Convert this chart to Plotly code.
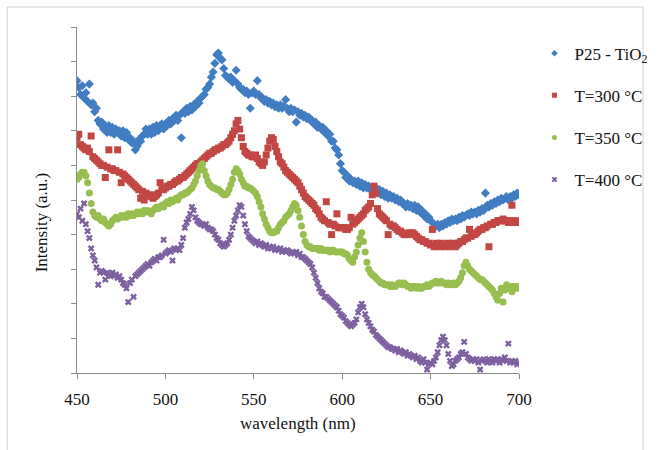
import plotly.graph_objects as go

# Wavelength grid (nm), one reading per nm
wavelength = list(range(450, 701))

# P25 - TiO2 photoluminescence intensity (a.u.)
p25_tio2 = [
    8.45, 8.25, 8.05, 8.30, 7.95, 8.10, 7.85, 8.35, 7.75, 7.80,
    7.55, 7.65, 7.30, 7.20, 7.25, 7.05, 7.15, 6.95, 7.15, 6.95,
    7.10, 6.90, 7.05, 6.95, 7.00, 6.85, 7.00, 6.80, 6.95, 6.75,
    6.80, 6.65, 6.70, 6.45, 6.55, 6.75, 6.70, 6.85, 6.90, 7.05,
    6.90, 7.05, 6.90, 7.10, 6.95, 7.15, 7.00, 7.15, 7.20, 7.05,
    7.20, 7.15, 7.30, 7.20, 7.35, 7.30, 7.45, 7.30, 7.45, 6.80,
    7.55, 7.50, 7.65, 7.55, 7.70, 7.60, 7.75, 7.70, 7.85, 7.80,
    7.95, 8.00, 8.05, 8.20, 8.25, 8.35, 8.55, 8.70, 8.95, 9.20,
    9.25, 9.10, 9.05, 8.80, 8.60, 8.55, 8.50, 8.55, 8.40, 8.45,
    8.75, 8.35, 8.25, 8.20, 8.20, 8.10, 8.15, 8.05, 7.65, 8.10,
    8.15, 8.05, 8.45, 8.05, 7.95, 7.95, 7.85, 7.90, 7.80, 7.85,
    7.75, 7.80, 7.70, 7.75, 7.65, 7.75, 7.65, 7.70, 7.90, 7.65,
    7.55, 7.65, 7.55, 7.60, 7.25, 7.55, 7.45, 7.50, 7.40, 7.45,
    7.35, 7.40, 7.30, 7.30, 7.20, 7.25, 7.10, 7.15, 7.05, 7.10,
    6.95, 7.00, 6.85, 6.90, 6.70, 6.70, 6.50, 6.45, 6.30, 6.05,
    5.85, 5.80, 5.65, 5.70, 5.55, 5.60, 5.50, 5.55, 5.45, 5.55,
    5.40, 5.50, 5.35, 5.45, 5.35, 5.40, 5.30, 5.35, 5.25, 5.35,
    5.20, 5.30, 5.15, 5.25, 5.10, 5.20, 5.05, 5.15, 5.05, 5.10,
    5.00, 5.05, 4.95, 5.00, 4.90, 4.90, 4.80, 4.90, 4.80, 4.85,
    4.75, 4.85, 4.70, 4.80, 4.65, 4.70, 4.55, 4.60, 4.45, 4.50,
    4.40, 4.35, 4.30, 4.25, 4.30, 4.20, 4.30, 4.25, 4.35, 4.30,
    4.40, 4.35, 4.45, 4.40, 4.45, 4.40, 4.50, 4.45, 4.55, 4.50,
    4.55, 4.60, 4.55, 4.65, 4.60, 4.65, 4.60, 4.70, 4.65, 4.75,
    4.70, 5.20, 4.85, 4.80, 4.90, 4.85, 4.95, 4.90, 5.00, 4.95,
    5.05, 5.00, 5.05, 5.10, 5.00, 5.10, 5.05, 5.15, 5.10, 5.20,
    5.15,
]

# Annealed at 300 °C
t300 = [
    6.80, 6.90, 6.60, 6.55, 6.50, 6.45, 6.50, 6.40, 6.85, 6.25,
    6.20, 6.15, 6.10, 6.05, 6.00, 6.00, 5.65, 5.95, 6.45, 5.90,
    5.90, 5.85, 5.85, 6.45, 5.80, 5.50, 5.75, 5.70, 5.65, 5.60,
    5.55, 5.50, 5.45, 5.40, 5.35, 5.30, 5.05, 5.25, 5.00, 5.20,
    5.15, 5.15, 5.10, 5.05, 5.10, 5.15, 5.20, 5.50, 5.30, 5.30,
    5.35, 5.40, 5.40, 5.45, 5.45, 5.50, 5.55, 5.55, 5.60, 5.65,
    5.65, 5.70, 5.75, 5.80, 5.85, 5.90, 5.95, 6.00, 6.05, 6.05,
    6.10, 6.15, 6.20, 6.25, 6.30, 6.35, 6.35, 6.40, 6.45, 6.45,
    6.50, 6.50, 6.55, 6.60, 6.60, 6.65, 6.70, 6.80, 6.90, 7.00,
    7.20, 7.30, 7.05, 6.80, 6.55, 6.40, 6.35, 6.30, 6.30, 6.25,
    6.25, 6.30, 6.20, 6.10, 6.05, 6.00, 6.10, 6.30, 6.50, 6.70,
    6.80, 6.75, 6.55, 6.40, 6.25, 6.10, 6.05, 5.95, 5.85, 5.80,
    5.75, 5.70, 5.65, 5.60, 5.55, 5.50, 5.40, 5.30, 5.20, 5.10,
    5.05, 5.00, 4.95, 4.90, 4.85, 4.75, 4.70, 4.60, 4.50, 4.45,
    4.40, 4.95, 4.35, 4.30, 4.00, 4.30, 4.25, 4.60, 4.20, 4.20,
    4.20, 4.20, 4.15, 4.15, 4.20, 4.50, 4.30, 4.35, 4.40, 4.45,
    4.50, 4.55, 4.60, 4.70, 4.75, 4.80, 4.90, 5.15, 5.40, 5.20,
    4.75, 4.60, 4.55, 4.50, 4.45, 4.40, 4.00, 4.30, 4.25, 4.25,
    4.20, 4.15, 4.10, 4.10, 4.05, 4.00, 4.00, 4.00, 4.05, 4.05,
    4.05, 4.00, 3.95, 3.90, 3.85, 3.85, 3.80, 3.80, 3.75, 3.75,
    3.70, 4.15, 3.65, 3.75, 3.70, 3.65, 3.75, 3.70, 3.65, 3.70,
    3.75, 3.65, 3.70, 3.75, 3.65, 3.70, 3.75, 3.80, 3.80, 3.85,
    3.90, 3.90, 4.15, 3.95, 4.00, 4.00, 4.05, 4.10, 4.15, 4.15,
    4.20, 4.20, 4.25, 3.65, 4.30, 4.30, 4.35, 4.35, 4.40, 4.40,
    4.40, 4.45, 4.40, 4.40, 4.35, 4.40, 4.85, 4.40, 4.35, 4.40,
    4.35,
]

# Annealed at 350 °C
t350 = [
    5.60, 5.65, 5.75, 5.80, 5.80, 5.70, 5.50, 5.20, 4.90, 4.65,
    4.55, 4.50, 4.55, 4.45, 4.40, 4.45, 4.35, 4.30, 4.25, 4.30,
    4.40, 4.45, 4.50, 4.45, 4.50, 4.55, 4.50, 4.55, 4.50, 4.60,
    4.55, 4.60, 4.55, 4.60, 4.65, 4.60, 4.65, 4.60, 4.70, 4.65,
    4.70, 4.65, 4.60, 4.70, 4.75, 4.80, 4.75, 4.80, 4.85, 4.80,
    4.90, 4.95, 4.90, 5.00, 4.95, 5.00, 5.05, 5.00, 5.10, 5.15,
    5.15, 5.20, 5.20, 5.25, 5.30, 5.35, 5.45, 5.55, 5.70, 5.85,
    6.00, 6.05, 5.85, 5.70, 5.55, 5.45, 5.40, 5.35, 5.35, 5.30,
    5.30, 5.25, 5.20, 5.15, 5.15, 5.20, 5.30, 5.45, 5.60, 5.80,
    5.90, 5.85, 5.75, 5.60, 5.50, 5.40, 5.40, 5.35, 5.35, 5.30,
    5.25, 5.20, 5.10, 4.95, 4.80, 4.60, 4.45, 4.30, 4.20, 4.10,
    4.05, 4.05, 4.10, 4.10, 4.20, 4.30, 4.35, 4.40, 4.50, 4.55,
    4.60, 4.70, 4.80, 4.90, 4.85, 4.70, 4.50, 4.25, 4.00, 3.80,
    3.70, 3.65, 3.65, 3.60, 3.60, 3.60, 3.60, 3.55, 3.60, 3.55,
    3.55, 3.55, 3.55, 3.50, 3.55, 3.55, 3.50, 3.50, 3.50, 3.50,
    3.50, 3.45, 3.45, 3.40, 3.30, 3.25, 3.20, 3.35, 3.50, 3.70,
    3.90, 4.05, 3.80, 3.50, 3.20, 3.00, 2.90, 2.85, 2.80, 2.75,
    2.70, 2.65, 2.60, 2.60, 2.55, 2.55, 2.55, 2.50, 2.55, 2.50,
    2.50, 2.55, 2.60, 2.60, 2.55, 2.60, 2.55, 2.50, 2.50, 2.45,
    2.50, 2.50, 2.45, 2.50, 2.45, 2.45, 2.50, 2.50, 2.55, 2.50,
    2.55, 2.60, 2.60, 2.65, 2.60, 2.60, 2.65, 2.60, 2.60, 2.55,
    2.60, 2.55, 2.55, 2.60, 2.55, 2.60, 2.65, 2.75, 2.90, 3.10,
    3.20, 3.10, 3.00, 2.95, 2.90, 2.85, 2.80, 2.75, 2.70, 2.70,
    2.65, 2.60, 2.55, 2.50, 2.45, 2.40, 2.30, 2.20, 2.10, 2.30,
    2.45, 2.05, 2.40, 2.55, 2.45, 2.50, 2.35, 2.50, 2.45, 2.50,
    2.45,
]

# Annealed at 400 °C
t400 = [
    4.60, 4.50, 4.75, 4.40, 4.90, 4.30, 4.10, 3.90, 3.60, 3.40,
    3.25, 3.05, 2.55, 2.90, 2.95, 2.90, 2.70, 2.90, 2.85, 2.80,
    2.90, 2.80, 2.85, 2.75, 2.80, 2.70, 2.60, 2.55, 2.45, 2.05,
    2.60, 2.70, 2.20, 2.80, 2.85, 2.90, 2.95, 3.00, 3.05, 3.10,
    3.15, 3.10, 3.20, 3.25, 3.30, 3.25, 3.35, 3.35, 3.40, 3.85,
    3.45, 3.50, 3.55, 3.50, 3.25, 3.60, 3.55, 3.60, 3.55, 3.70,
    3.90, 4.20, 4.35, 4.45, 4.60, 4.80, 4.70, 4.50, 4.40, 4.35,
    4.30, 4.30, 4.25, 4.30, 4.20, 4.15, 4.15, 4.10, 4.00, 3.90,
    3.85, 3.75, 3.70, 3.65, 3.70, 3.75, 3.85, 4.00, 4.20, 4.40,
    4.55, 4.70, 4.85, 4.80, 4.55, 4.30, 4.10, 3.95, 3.90, 3.85,
    3.80, 3.75, 3.80, 3.70, 3.75, 3.70, 3.65, 3.70, 3.60, 3.65,
    3.60, 3.65, 3.55, 3.60, 3.55, 3.60, 3.50, 3.55, 3.50, 3.55,
    3.50, 3.45, 3.50, 3.45, 3.50, 3.40, 3.45, 3.35, 3.35, 3.30,
    3.25, 3.20, 3.15, 3.05, 2.90, 2.75, 2.60, 2.45, 2.35, 2.30,
    2.20, 2.20, 2.15, 2.10, 2.05, 2.00, 1.95, 1.90, 1.80, 1.70,
    1.65, 1.60, 1.50, 1.45, 1.40, 1.35, 1.40, 1.45, 1.55, 1.75,
    1.90, 2.00, 1.90, 1.70, 1.55, 1.45, 1.35, 1.25, 1.20, 1.10,
    1.05, 1.00, 0.95, 0.90, 0.85, 0.80, 0.75, 0.75, 0.70, 0.70,
    0.65, 0.70, 0.60, 0.65, 0.60, 0.55, 0.60, 0.50, 0.55, 0.50,
    0.45, 0.50, 0.40, 0.45, 0.35, 0.30, 0.40, 0.30, 0.10, 0.25,
    0.30, 0.25, 0.35, 0.45, 0.60, 0.80, 0.95, 1.05, 0.95, 0.80,
    0.55, 0.35, 0.20, 0.25, 0.35, 0.40, 0.45, 0.55, 0.60, 0.90,
    0.55, 0.45, 0.40, 0.35, 0.40, 0.35, 0.40, 0.30, 0.10, 0.35,
    0.40, 0.35, 0.30, 0.40, 0.35, 0.30, 0.40, 0.35, 0.40, 0.30,
    0.40, 0.35, 0.45, 0.35, 0.85, 0.30, 0.35, 0.30, 0.35, 0.25,
    0.30,
]

series_names = ["P25 - TiO<sub>2</sub>", "T=300 °C", "T=350 °C", "T=400 °C"]
series_values = [p25_tio2, t300, t350, t400]
series_colors = ["#417DC2", "#C24744", "#98BE50", "#7D60A0"]
series_symbols = ["diamond", "square", "circle", "x"]
series_sizes = [7, 7, 7, 6]

x_ticks = [450, 500, 550, 600, 650, 700]

FONT = "Liberation Serif"
TEXT = "#111111"
AXIS_GREY = "#8c8c8c"

fig = go.Figure()
for i, (name, vals, col, sym, sz) in enumerate(
        zip(series_names, series_values, series_colors, series_symbols, series_sizes)):
    # data points
    fig.add_trace(go.Scatter(
        x=wavelength, y=vals, mode="markers", name=name,
        legendgroup=f"g{i}", showlegend=False,
        marker=dict(color=col, symbol=sym, size=sz, line=dict(width=0)),
    ))
    # legend entry with a smaller key symbol
    fig.add_trace(go.Scatter(
        x=[None], y=[None], mode="markers", name=name,
        legendgroup=f"g{i}", showlegend=True, hoverinfo="skip",
        marker=dict(color=col, symbol=sym, size=5, line=dict(width=0)),
    ))

fig.update_layout(
    width=665, height=450,
    margin=dict(l=77, r=132, t=27, b=77),
    paper_bgcolor="white", plot_bgcolor="white",
    font=dict(family=FONT, size=17, color=TEXT),
    showlegend=True,
    legend=dict(
        x=1.035, xanchor="left", y=0.975, yanchor="top",
        font=dict(family=FONT, size=17, color=TEXT),
        traceorder="grouped", tracegroupgap=17,
        itemwidth=30, bgcolor="rgba(0,0,0,0)",
    ),
    xaxis=dict(
        range=[450, 700], tickvals=x_ticks, ticktext=[str(t) for t in x_ticks],
        showline=True, linecolor=AXIS_GREY, linewidth=1,
        ticks="outside", ticklen=5, tickcolor=AXIS_GREY,
        showgrid=False, zeroline=False, ticklabelstandoff=6,
        tickfont=dict(family=FONT, size=17, color=TEXT),
    ),
    yaxis=dict(
        range=[0, 10], dtick=1, tick0=0,
        showline=True, linecolor=AXIS_GREY, linewidth=1,
        ticks="outside", ticklen=5, tickcolor=AXIS_GREY,
        showgrid=False, zeroline=False, showticklabels=False,
    ),
    annotations=[
        dict(text="wavelength (nm)", xref="paper", yref="paper",
             x=0.5, y=-0.145, xanchor="center", yanchor="middle",
             showarrow=False, font=dict(family=FONT, size=17, color=TEXT)),
        dict(text="Intensity (a.u.)", xref="paper", yref="paper",
             x=-0.081, y=0.436, xanchor="center", yanchor="middle", textangle=-90,
             showarrow=False, font=dict(family=FONT, size=17, color=TEXT)),
    ],
    shapes=[
        dict(type="rect", xref="paper", yref="paper",
             x0=-0.158, x1=1.2807, y0=-0.23, y1=1.0578,
             line=dict(color="#d0d0d0", width=1), fillcolor="rgba(0,0,0,0)",
             layer="below"),
    ],
)

fig.write_html("out.html")
